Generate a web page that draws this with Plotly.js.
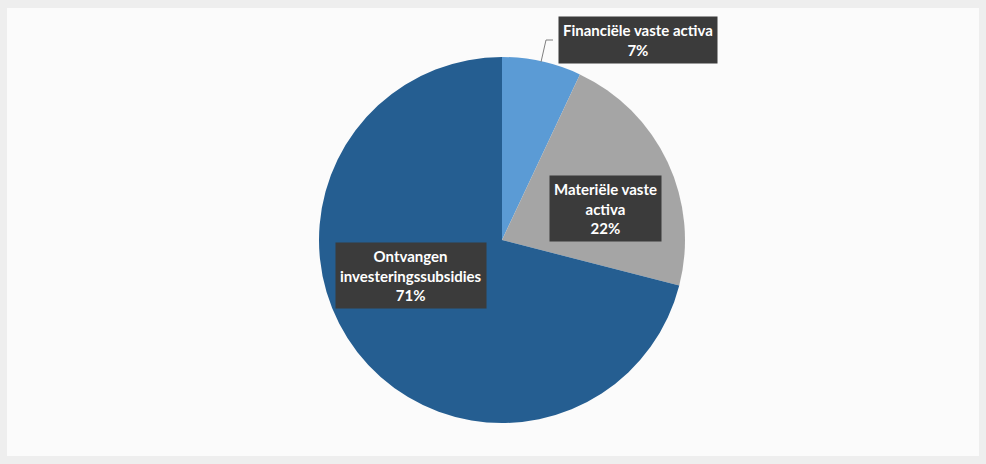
<!DOCTYPE html>
<html>
<head>
<meta charset="utf-8">
<script src="https://cdn.plot.ly/plotly-3.0.1.min.js"></script>
<style>html,body{margin:0;padding:0;background:#eeeeee;}#chart{width:986px;height:464px;}</style>
</head>
<body>
<div id="chart"></div>
<script>
const labels = ["Financiële vaste activa", "Materiële vaste activa", "Ontvangen investeringssubsidies"];
const labelLines = [["Financiële vaste activa"], ["Materiële vaste", "activa"], ["Ontvangen", "investeringssubsidies"]];
const values = [7, 22, 71];
const colors = ["#5b9bd5", "#a5a5a5", "#255e91"];

const W = 986, H = 464;
const cx = 502, cy = 240, r = 183;
const labelPos = [[638, 40], [605, 208], [411, 275]];

const total = values.reduce((a, b) => a + b, 0);
const annotations = labels.map((l, i) => ({
  xref: 'paper', yref: 'paper',
  x: labelPos[i][0] / W, y: 1 - labelPos[i][1] / H,
  xanchor: 'center', yanchor: 'middle',
  text: labelLines[i].join('<br>') + '<br>' + Math.round(values[i] / total * 100) + '%',
  showarrow: false,
  font: {family: 'Lato, "Open Sans", sans-serif', size: 15, color: '#ffffff', weight: 'bold'},
  bgcolor: '#3b3b3b',
  borderpad: 4,
  align: 'center'
}));

const px = x => x / W, py = y => 1 - y / H;
const shapes = [
  {type: 'rect', xref: 'paper', yref: 'paper', x0: px(7), x1: px(979), y0: py(456), y1: py(8),
   fillcolor: '#fbfbfb', line: {width: 0}, layer: 'below'},
  {type: 'path', xref: 'paper', yref: 'paper',
   path: `M ${px(553)} ${py(40)} L ${px(546)} ${py(40)} L ${px(541)} ${py(62)}`,
   line: {color: '#7f7f7f', width: 1}}
];

const data = [{
  type: 'pie',
  labels: labels,
  values: values,
  sort: false,
  direction: 'clockwise',
  rotation: 0,
  textinfo: 'none',
  hoverinfo: 'label+percent',
  marker: {colors: colors, line: {width: 0}},
  domain: {x: [(cx - r) / W, (cx + r) / W], y: [1 - (cy + r) / H, 1 - (cy - r) / H]},
  showlegend: false
}];

const layout = {
  width: W, height: H,
  margin: {l: 0, r: 0, t: 0, b: 0},
  paper_bgcolor: '#eeeeee',
  annotations: annotations,
  shapes: shapes,
  showlegend: false
};

Plotly.newPlot('chart', data, layout, {displayModeBar: false, staticPlot: true});
</script>
</body>
</html>
